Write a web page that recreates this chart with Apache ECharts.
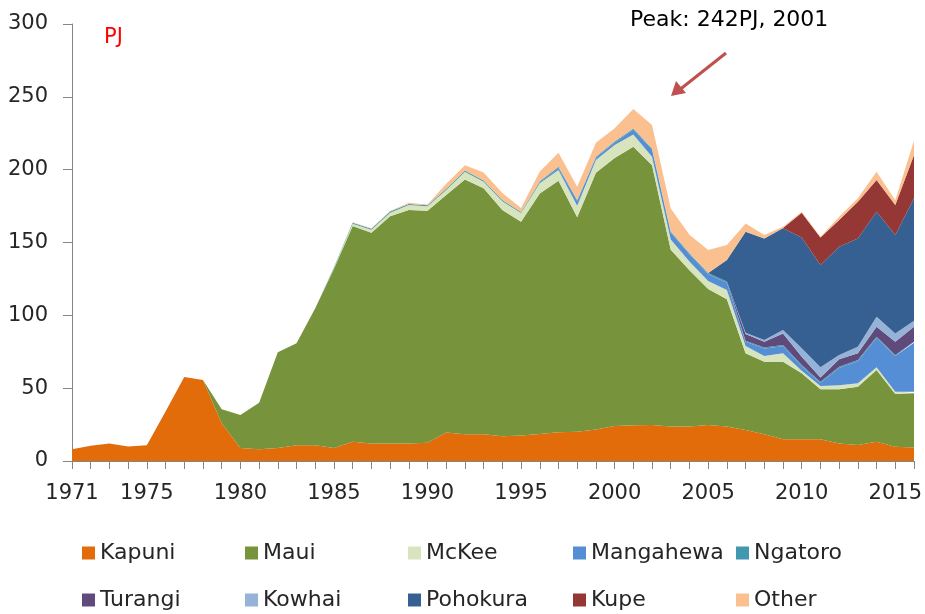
<!DOCTYPE html>
<html>
<head>
<meta charset="utf-8">
<script src="https://cdn.jsdelivr.net/npm/echarts@6/dist/echarts.min.js"></script>
<style>
html,body{margin:0;padding:0;background:#fff;}
#chart{width:925px;height:614px;}
</style>
</head>
<body>
<div id="chart"></div>
<script>
// years 1971..2016
var years = [];
for (var y = 1971; y <= 2016; y++) years.push(String(y));

var kapuni = [8,10.5,12,10,10.8,34,57.6,55.6,26,9,8,9,10.8,10.8,9,13.2,12,12,12,12.6,19.5,18.3,18.3,17,17.5,18.5,19.7,20,21.7,24,24.5,24.7,23.6,23.6,24.7,23.6,21.3,18.3,15,15,14.9,12,11,13.3,9.8,9.2];
var maui = [0,0,0,0,0,0,0,0,9.5,22.6,32,65.6,70,94,123,148.1,144.7,156,160.3,159.2,163.1,175,168.9,155.3,146.7,165.2,172.7,147.3,176.2,184,191.2,178.3,121.4,107.4,93.3,87.4,52.7,49.9,53.2,45.2,34.3,37.2,40,49.2,36.2,37.3];
var mckee = [0,0,0,0,0,0,0,0,0,0,0,0,0,0,0.5,1.5,2,2.4,3.4,3,3.5,5.3,4.5,6,6,7,7.3,8,8.7,9,8.5,5.9,7,6,5.5,6.4,5,3.8,5.7,1.8,2.3,2.8,2.3,1.8,1.6,1.1];
var mangahewa = [0,0,0,0,0,0,0,0,0,0,0,0,0,0,0,0,0,0,0,0,0,0,0,0,0,0.5,1.5,3,1.5,1.5,3.3,4.9,4.7,4.9,4.7,5,2.8,5.2,4.9,3.1,2.1,11.9,15.2,20.2,24.4,33.5];
var ngatoro = [0,0,0,0,0,0,0,0,0,0,0,0,0,0,0.5,0.8,0.8,0.8,0.8,0.8,0.8,0.8,0.8,0.8,0.8,0.8,0.8,0.8,0.8,0.8,0.8,0.8,0.8,0.8,0.8,0.8,0.8,0.8,0.8,0.8,0.8,0.8,0.8,0.8,0.8,0.8];
var turangi = [0,0,0,0,0,0,0,0,0,0,0,0,0,0,0,0,0,0,0,0,0,0,0,0,0,0,0,0,0,0,0,0,0,0,0,0,4.6,3.9,8,5.7,3,5.1,4.6,6.9,9.1,10.3];
var kowhai = [0,0,0,0,0,0,0,0,0,0,0,0,0,0,0,0,0,0,0,0,0,0,0,0,0,0,0,0,0,0,0,0,0,0,0,0,0.8,1.1,2.4,5.8,6.9,3,4.6,6.8,5.7,4.1];
var pohokura = [0,0,0,0,0,0,0,0,0,0,0,0,0,0,0,0,0,0,0,0,0,0,0,0,0,0,0,0,0,0,0,0,0,0,0,14.8,69.4,69.8,69.7,76.1,70.2,74.2,74.3,72.1,67.5,84];
var kupe = [0,0,0,0,0,0,0,0,0,0,0,0,0,0,0,0,0,0,0,0,0,0,0,0,0,0,0,0,0,0,0,0,0,0,0,0,0,0,0.3,17,19,18.4,25.2,21.8,20.6,29.7];
var other = [0,0,0,0,0,0,0,0,0,0,0,0,0,0,0,0.3,0.3,0.5,0.8,0.5,3.5,3.6,5.5,4.8,2.6,6.7,9.6,9.2,9.6,9.2,13.3,16,15.9,12.6,15.8,10.2,5.7,2.3,0.8,0.6,0.5,2.3,2.3,5.7,3.3,9.8];

var names = ['Kapuni','Maui','McKee','Mangahewa','Ngatoro','Turangi','Kowhai','Pohokura','Kupe','Other'];
var values = [kapuni,maui,mckee,mangahewa,ngatoro,turangi,kowhai,pohokura,kupe,other];
var colors = ['#E36C0A','#77933C','#D7E4BD','#558ED5','#4198AF','#604A7B','#95B3D7','#376092','#953735','#FAC090'];

var FONT = 'DejaVu Sans';

var series = names.map(function (n, i) {
    return {
        name: n,
        type: 'line',
        stack: 'total',
        data: values[i],
        symbol: 'none',
        lineStyle: {width: 0},
        areaStyle: {color: colors[i], opacity: 1},
        itemStyle: {color: colors[i]},
        emphasis: {disabled: true}
    };
});

// legend: 5 columns x 2 rows, one legend per item so the columns line up
var colX = [82, 245, 408, 573, 736];
var rowTop = [542, 589];
var legends = names.map(function (n, i) {
    return {
        left: colX[i % 5],
        top: rowTop[Math.floor(i / 5)],
        data: [n],
        icon: 'rect',
        itemWidth: 13,
        itemHeight: 13,
        padding: 0,
        textStyle: {fontFamily: FONT, fontSize: 22, color: '#262626', padding: [0, 0, 0, 0]},
        selectedMode: false
    };
});

var chart = echarts.init(document.getElementById('chart'));
chart.setOption({
    animation: false,
    color: colors,
    grid: {left: 72, right: 9, top: 24, bottom: 153, containLabel: false},
    xAxis: {
        type: 'category',
        data: years,
        boundaryGap: false,
        axisLine: {lineStyle: {color: '#868686', width: 1}},
        axisTick: {show: true, interval: 0, length: 8, lineStyle: {color: '#868686'}},
        axisLabel: {
            interval: 0,
            margin: 22,
            fontFamily: FONT,
            fontSize: 21,
            color: '#262626',
            formatter: function (v, idx) {
                var yr = +v;
                return (idx === 0 || yr % 5 === 0) ? v : '';
            }
        },
        splitLine: {show: false}
    },
    yAxis: {
        type: 'value',
        min: 0,
        max: 300,
        interval: 50,
        axisLine: {show: true, lineStyle: {color: '#868686'}},
        axisTick: {show: true, length: 9, lineStyle: {color: '#868686'}},
        axisLabel: {fontFamily: FONT, fontSize: 21, color: '#262626', margin: 24},
        splitLine: {show: false}
    },
    legend: legends,
    series: series,
    graphic: [
        {type: 'text', left: 104, top: 27, style: {text: 'PJ', fill: '#FF0000', font: '21px "DejaVu Sans"'}},
        {type: 'text', left: 630, top: 9, style: {text: 'Peak: 242PJ, 2001', fill: '#000', font: '22px "DejaVu Sans"'}},
        {type: 'line', shape: {x1: 726, y1: 53, x2: 678, y2: 91}, style: {stroke: '#C0504D', lineWidth: 3}},
        {type: 'polygon', shape: {points: [[671, 96], [676, 81], [686, 93]]}, style: {fill: '#C0504D'}}
    ]
});
</script>
</body>
</html>
